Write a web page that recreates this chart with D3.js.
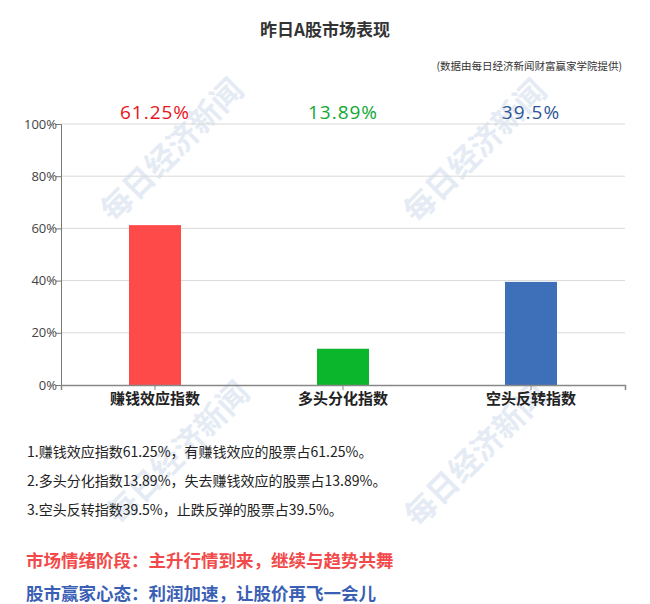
<!DOCTYPE html>
<html>
<head>
<meta charset="utf-8">
<script src="https://cdn.jsdelivr.net/npm/d3@7/dist/d3.min.js"></script>
<style>
  body { margin: 0; background: #fff; }
  svg { display: block; font-family: "Noto Sans CJK SC", "Noto Sans", sans-serif; }
</style>
</head>
<body>
<svg width="650" height="604"></svg>
<script>
const categories = ["赚钱效应指数", "多头分化指数", "空头反转指数"];
const values = [61.25, 13.89, 39.5];
const labels = ["61.25%", "13.89%", "39.5%"];
const barColors = ["#ff4a4a", "#0cb62c", "#3e6fb9"];
const labelColors = ["#e8121c", "#10a834", "#2f5597"];
const yTicks = [0, 20, 40, 60, 80, 100];
const notes = [
    "1.赚钱效应指数61.25%，有赚钱效应的股票占61.25%。",
    "2.多头分化指数13.89%，失去赚钱效应的股票占13.89%。",
    "3.空头反转指数39.5%，止跌反弹的股票占39.5%。"
];
const stage = "市场情绪阶段：主升行情到来，继续与趋势共舞";
const mood = "股市赢家心态：利润加速，让股价再飞一会儿";

const svg = d3.select("svg"),
    plotLeft = 61, plotRight = 625, plotTop = 124, plotBottom = 385;

// watermarks
const marks = [[172, 150], [475, 151], [178, 453], [476, 455]];
svg.selectAll(".wm")
    .data(marks)
    .enter().append("text")
    .attr("class", "wm")
    .attr("transform", d => "translate(" + d[0] + "," + d[1] + ") rotate(-45)")
    .attr("text-anchor", "middle")
    .attr("dy", "0.35em")
    .style("font-family", "'Noto Sans CJK SC', sans-serif")
    .style("font-weight", "bold")
    .style("font-size", "31px")
    .style("fill", "#d0dcec")
    .style("opacity", 0.55)
    .text("每日经济新闻");

const x = d3.scaleBand()
    .domain(categories)
    .range([plotLeft, plotRight])
    .paddingInner(0)
    .paddingOuter(0);

const y = d3.scaleLinear()
    .domain([0, 100])
    .range([plotBottom, plotTop]);

// grid
svg.append("g")
    .selectAll("line")
    .data(yTicks.slice(1))
    .enter().append("line")
    .attr("x1", plotLeft).attr("x2", plotRight)
    .attr("y1", d => y(d)).attr("y2", d => y(d))
    .style("stroke", "#d9d9d9");

const yAxis = svg.append("g")
    .attr("transform", "translate(" + plotLeft + ",0)")
    .call(d3.axisLeft(y).tickValues(yTicks).tickFormat(d => d + "%").tickSizeOuter(0).tickSize(5));
yAxis.select(".domain").style("stroke", "#777");
yAxis.selectAll(".tick line").style("stroke", "#777");
yAxis.selectAll("text")
    .style("font-family", "'Open Sans', sans-serif")
    .style("font-size", "13px")
    .style("fill", "#444")
    .attr("x", -4);

// bars
const bw = 52;
svg.selectAll(".bar")
    .data(values)
    .enter().append("rect")
    .attr("class", "bar")
    .attr("x", (d, i) => x(categories[i]) + x.bandwidth() / 2 - bw / 2)
    .attr("y", d => y(d))
    .attr("width", bw)
    .attr("height", d => y(0) - y(d))
    .style("fill", (d, i) => barColors[i]);

const xAxis = svg.append("g")
    .attr("transform", "translate(0," + plotBottom + ")")
    .call(d3.axisBottom(x).tickSizeOuter(0).tickSize(5));
xAxis.select(".domain").style("stroke", "#888").style("stroke-width", 1.5);
xAxis.selectAll(".tick line").style("stroke", "#888");
xAxis.selectAll("text")
    .attr("y", 8)
    .style("font-family", "'Noto Sans CJK SC', sans-serif")
    .style("font-size", "15px")
    .style("font-weight", "bold")
    .style("fill", "#222");

// value labels
svg.selectAll(".val")
    .data(labels)
    .enter().append("text")
    .attr("class", "val")
    .attr("x", (d, i) => x(categories[i]) + x.bandwidth() / 2)
    .attr("y", 119)
    .attr("text-anchor", "middle")
    .style("font-family", "'Open Sans', sans-serif")
    .style("font-size", "19px")
    .style("letter-spacing", "1px")
    .style("fill", (d, i) => labelColors[i])
    .text(d => d);

// title
svg.append("text")
    .attr("x", 325).attr("y", 36)
    .attr("text-anchor", "middle")
    .style("font-size", "17px")
    .style("font-weight", "bold")
    .style("fill", "#333")
    .text("昨日A股市场表现");

svg.append("text")
    .attr("x", 622).attr("y", 70)
    .attr("text-anchor", "end")
    .style("font-size", "10.5px")
    .style("fill", "#333")
    .text("(数据由每日经济新闻财富赢家学院提供)");

// notes
svg.selectAll(".note")
    .data(notes)
    .enter().append("text")
    .attr("class", "note")
    .attr("x", 27)
    .attr("y", (d, i) => 457 + i * 29)
    .style("font-size", "14px")
    .style("fill", "#222")
    .text(d => d);

svg.append("text")
    .attr("x", 26).attr("y", 567)
    .style("font-size", "17.5px")
    .style("font-weight", "bold")
    .style("fill", "#f24a4a")
    .text(stage);

svg.append("text")
    .attr("x", 26).attr("y", 600)
    .style("font-size", "17.5px")
    .style("font-weight", "bold")
    .style("fill", "#3a5fb5")
    .text(mood);
</script>
</body>
</html>
